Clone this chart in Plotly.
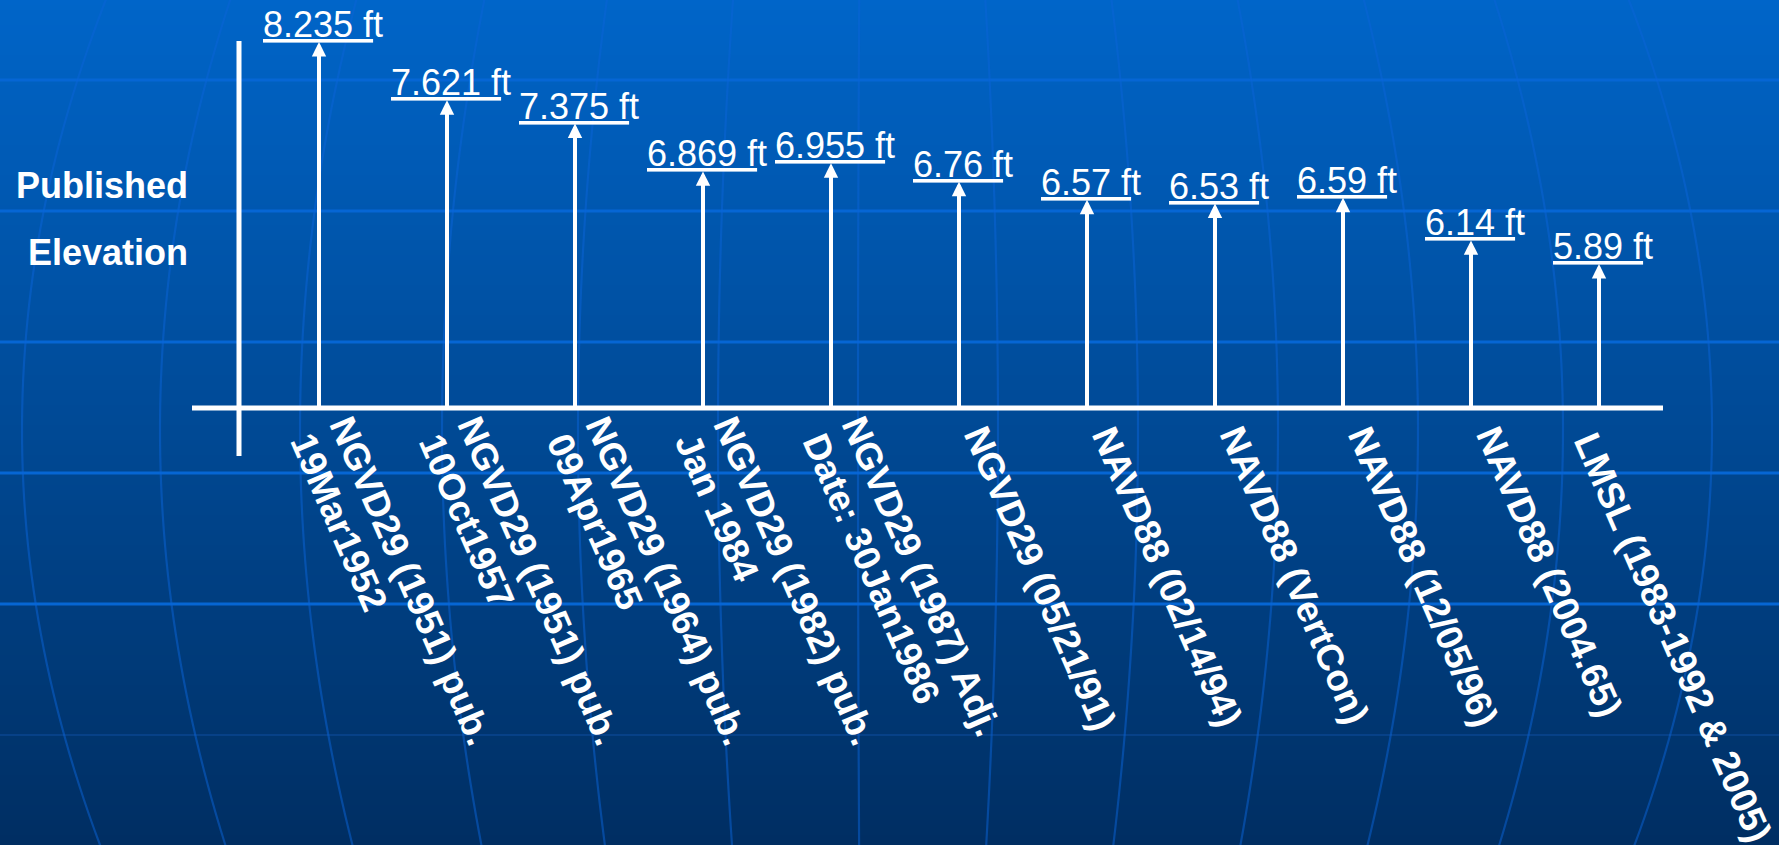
import math
import plotly.graph_objects as go

# ---------------- data ----------------
label_line1 = ["NGVD29 (1951) pub.", "NGVD29 (1951) pub.", "NGVD29 (1964) pub.",
               "NGVD29 (1982) pub.", "NGVD29 (1987) Adj.", "NGVD29 (05/21/91)",
               "NAVD88 (02/14/94)", "NAVD88 (VertCon)", "NAVD88 (12/05/96)",
               "NAVD88 (2004.65)", "LMSL (1983-1992 & 2005)"]
label_line2 = ["19Mar1952", "10Oct1957", "09Apr1965", "Jan 1984", "Date: 30Jan1986",
               "", "", "", "", "", ""]
elevations_ft = [8.235, 7.621, 7.375, 6.869, 6.955, 6.76, 6.57, 6.53, 6.59, 6.14, 5.89]
unit = "ft"
side_title = ["Published", "Elevation"]

# ---------------- geometry / style ----------------
W, H = 1779, 845
X0_PX, SLOT_PX = 319, 128          # pixel of first slot and slot spacing
BASE_PX, PX_PER_FT = 408, 94.67     # baseline pixel row, vertical scale
BASE_FT = 4.37                      # value at the drawn baseline
Y_TOP = BASE_FT + BASE_PX / PX_PER_FT
Y_BOT = Y_TOP - H / PX_PER_FT
X_LO = -X0_PX / SLOT_PX
X_HI = (W - X0_PX) / SLOT_PX

FONT = "Liberation Sans, Arial, sans-serif"
FS = 36
FS_CAT = 37
WHITE = "#ffffff"


def xd(px):
    return (px - X0_PX) / SLOT_PX


def yd(py):
    return BASE_FT + (BASE_PX - py) / PX_PER_FT


def pxp(px):
    return px / W


def pyp(py):
    return 1 - py / H


shapes = []

# background gradient (bands)
top_c, bot_c = (0, 101, 201), (0, 46, 98)
band = 5
for y0 in range(0, H, band):
    t = (y0 + band / 2) / H
    c = tuple(round(a + (b - a) * t) for a, b in zip(top_c, bot_c))
    shapes.append(dict(type="rect", xref="paper", yref="paper", x0=0, x1=1,
                       y0=pyp(min(y0 + band, H)), y1=pyp(y0),
                       fillcolor="rgb(%d,%d,%d)" % c, line=dict(width=0), layer="below"))

# globe grid: parallels
for py in [80, 211, 342, 473, 604]:
    shapes.append(dict(type="line", xref="paper", yref="paper", x0=0, x1=1, y0=pyp(py), y1=pyp(py),
                       line=dict(color="rgb(6,102,212)", width=3), layer="below"))
shapes.append(dict(type="line", xref="paper", yref="paper", x0=0, x1=1, y0=pyp(735), y1=pyp(735),
                   line=dict(color="rgba(20,90,180,0.35)", width=2), layer="below"))

# globe grid: meridians
for x0 in [22, 160, 300, 442, 578, 718, 858, 998, 1138, 1278, 1418, 1563, 1712]:
    pts = []
    for py in range(-10, H + 20, 15):
        px = x0 - 0.092 * (x0 - 870) * ((py - 430) / 415.0) ** 2
        pts.append("%.5f,%.5f" % (pxp(px), pyp(py)))
    shapes.append(dict(type="path", xref="paper", yref="paper", path="M" + " L".join(pts),
                       line=dict(color="rgba(10,100,215,0.5)", width=2.2), layer="below"))

# axis lines
shapes.append(dict(type="line", xref="x", yref="y", x0=xd(192), x1=xd(1663), y0=BASE_FT, y1=BASE_FT,
                   line=dict(color=WHITE, width=5), layer="above"))
shapes.append(dict(type="line", xref="x", yref="y", x0=xd(239), x1=xd(239), y0=yd(456), y1=yd(41),
                   line=dict(color=WHITE, width=5), layer="above"))

annotations = []
idx = list(range(len(elevations_ft)))

# arrows from baseline up to each value
for i, v in zip(idx, elevations_ft):
    annotations.append(dict(x=i, y=v, xref="x", yref="y", ax=i, ay=BASE_FT, axref="x", ayref="y",
                            text="", showarrow=True, arrowhead=2, arrowsize=0.72, arrowwidth=4,
                            arrowcolor=WHITE, standoff=0, font=dict(size=1)))

# value labels (underlined)
for i, v in zip(idx, elevations_ft):
    num = f"{v}"
    annotations.append(dict(x=i, y=v, xref="x", yref="y", xanchor="center", yanchor="bottom",
                            xshift=4, yshift=-5, showarrow=False,
                            text=f"<u>{num} {unit[0]}</u>{unit[1:]}",
                            font=dict(family=FONT, size=FS, color=WHITE)))

# rotated category labels
ANG = 66.5
th = math.radians(ANG)
dvec = (math.cos(th), math.sin(th))
uvec = (math.sin(th), -math.cos(th))
PAD = 2
ASC, DESC = 0.905 * FS_CAT, 0.212 * FS_CAT
BOXH = ASC + DESC + 2 * PAD
LINE_GAP = 43


def anchor_from_origin(ox, oy):
    blx = ox - PAD * dvec[0] - (PAD + DESC) * uvec[0]
    bly = oy - PAD * dvec[1] - (PAD + DESC) * uvec[1]
    tly = bly + BOXH * uvec[1]
    return blx, tly


def add_rot_label(i, text, ox_rel, oy):
    apx = X0_PX + SLOT_PX * i
    blx, tly = anchor_from_origin(apx + ox_rel, oy)
    annotations.append(dict(x=i, y=BASE_FT, xref="x", yref="y", xanchor="left", yanchor="top",
                            xshift=blx - apx, yshift=-(tly - BASE_PX), textangle=ANG,
                            showarrow=False, text=f"<b>{text}</b>", align="left",
                            font=dict(family=FONT, size=FS_CAT, color=WHITE)))


for i in idx:
    if label_line2[i]:
        ox, oy = 10, 424
        add_rot_label(i, label_line1[i], ox, oy)
        add_rot_label(i, label_line2[i], ox - LINE_GAP * uvec[0], oy - LINE_GAP * uvec[1])
    else:
        ox, oy = (4, 434) if i < len(idx) - 1 else (-26, 440)
        add_rot_label(i, label_line1[i], ox, oy)

# side title
for txt, top in zip(side_title, [163.4, 230.4]):
    annotations.append(dict(x=pxp(189.5), y=pyp(top), xref="paper", yref="paper",
                            xanchor="right", yanchor="top", showarrow=False,
                            text=f"<b>{txt}</b>", font=dict(family=FONT, size=FS, color=WHITE)))

fig = go.Figure()
fig.add_trace(go.Scatter(x=idx, y=elevations_ft, mode="markers",
                         marker=dict(size=1, opacity=0), hoverinfo="skip", showlegend=False))

fig.update_layout(
    width=W, height=H, margin=dict(l=0, r=0, t=0, b=0, pad=0),
    paper_bgcolor="rgb(0,74,150)", plot_bgcolor="rgba(0,0,0,0)",
    xaxis=dict(range=[X_LO, X_HI], visible=False, fixedrange=True),
    yaxis=dict(range=[Y_BOT, Y_TOP], visible=False, fixedrange=True),
    shapes=shapes, annotations=annotations, showlegend=False,
)

fig.write_html("out.html", config={"displayModeBar": False})
